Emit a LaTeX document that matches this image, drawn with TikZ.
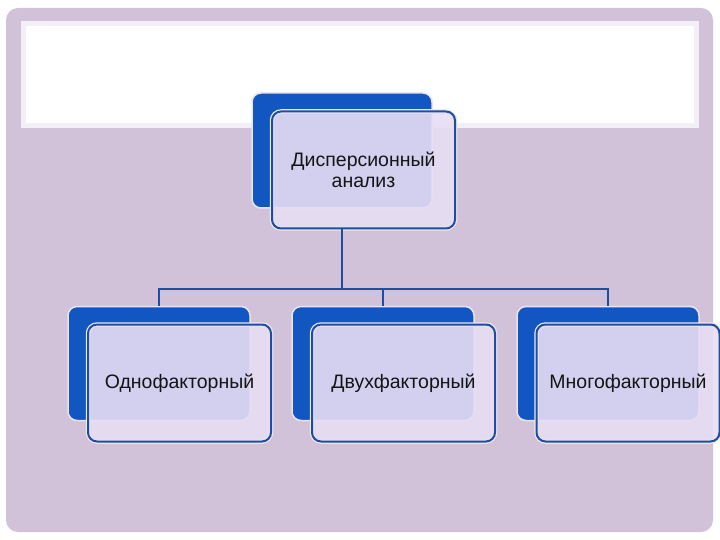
\documentclass[tikz,border=0pt]{standalone}
\usepackage{fontspec}
\setmainfont{Liberation Sans}
\definecolor{bgl}{RGB}{209,194,218}
\definecolor{bandc}{RGB}{244,238,247}
\definecolor{backblue}{RGB}{18,86,194}
\definecolor{frontfill}{RGB}{232,222,244}
\definecolor{lineblue}{RGB}{30,78,158}
\begin{document}
\begin{tikzpicture}[x=1pt,y=-1pt,
  backbox/.style={rectangle, rounded corners=9pt, fill=backblue, draw=white!55!bgl, line width=1.5pt, minimum width=182pt, minimum height=114pt, inner sep=0pt},
  frontbox/.style={rectangle, rounded corners=9pt, fill=frontfill, fill opacity=0.9, text opacity=1, draw=lineblue, line width=2pt,
    preaction={draw=white!60!bgl, line width=4.5pt, fill opacity=0, draw opacity=1},
    minimum width=183pt, minimum height=117pt, inner sep=0pt, align=center, text=black!92,
    font=\fontsize{19.5}{21}\selectfont},
  conn/.style={draw=lineblue, line width=2pt}
]
\useasboundingbox (0,0) rectangle (720,540);
\fill[white] (0,0) rectangle (720,540);
\fill[bgl, rounded corners=12pt] (6,8) rectangle (713,532);
\fill[bandc] (21,21) rectangle (699,128);
\fill[white] (26,26) rectangle (694,123);

% top
\node[backbox, minimum width=180pt, minimum height=115pt] (b0) at (342,150.5) {};
\node[frontbox] (f0) at (363.5,170) {Дисперсионный\\анализ};

% bottom row
\node[backbox] (b1) at (159,363.5) {};
\node[frontbox] (f1) at (179.5,383) {Однофакторный};
\node[backbox] (b2) at (383,363.5) {};
\node[frontbox] (f2) at (403.5,383) {Двухфакторный};
\node[backbox] (b3) at (608,363.5) {};
\node[frontbox] (f3) at (628,383) {Многофакторный};

% connectors
\coordinate (bus) at (0,289);
\draw[conn] (f0.south -| b0) -- (b0 |- bus);
\draw[conn, line cap=rect] (b1 |- bus) -- (b3 |- bus);
\draw[conn] (b1 |- bus) -- (b1.north);
\draw[conn] (b2 |- bus) -- (b2.north);
\draw[conn] (b3 |- bus) -- (b3.north);
\end{tikzpicture}
\end{document}
